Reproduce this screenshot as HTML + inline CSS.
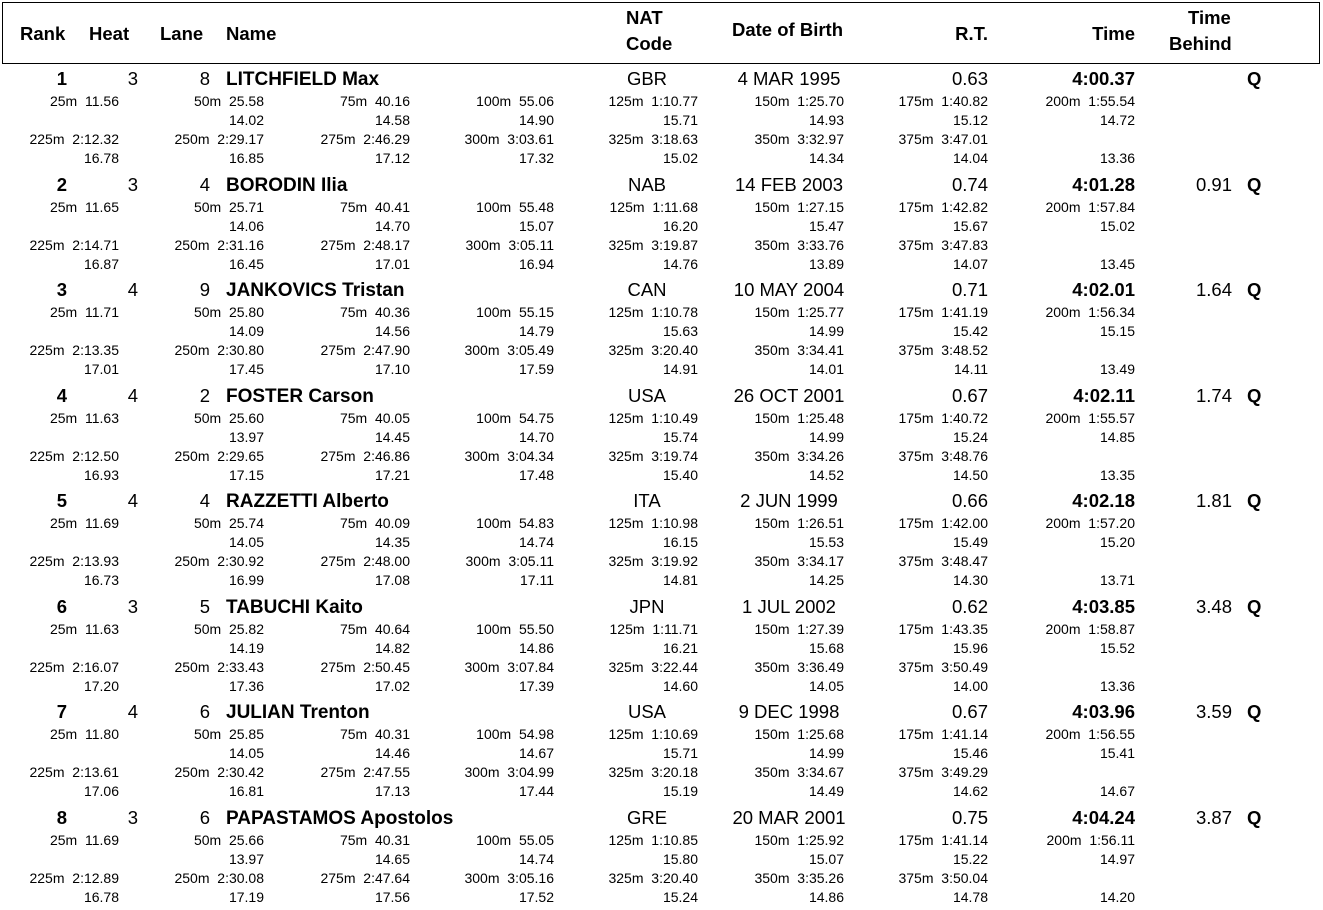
<!DOCTYPE html>
<html><head><meta charset="utf-8">
<style>
html,body{margin:0;padding:0;background:#fff;}
body{width:1323px;height:910px;position:relative;overflow:hidden;font-family:"Liberation Sans",Arial,sans-serif;color:#000;}
.hdr{position:absolute;left:2px;top:2px;width:1316px;height:60px;border:1px solid #000;}
.t{position:absolute;white-space:nowrap;line-height:20px;height:20px;}
.h{font-weight:bold;font-size:18.5px;}
.m{font-size:18.5px;}
.nm{font-size:19px;}
.b{font-weight:bold;}
.s{font-size:14px;line-height:16px;height:16px;}
.r{text-align:right;}
.c{text-align:center;}
</style></head><body>
<div class="hdr"></div>
<div id="root"></div>
<script>
var H=[["Rank",20,24],["Heat",89,24],["Lane",160,24],["Name",226,24],["NAT",626,8],["Code",626,34],["Date of Birth",732,20],["Time",1188,8],["Behind",1169,34]];
var out="";
H.forEach(function(h){out+='<div class="t h" style="left:'+h[1]+'px;top:'+h[2]+'px">'+h[0]+'</div>';});
out+='<div class="t h r" style="left:888px;width:100px;top:24px">R.T.</div>';
out+='<div class="t h r" style="left:1035px;width:100px;top:24px">Time</div>';
var D=[
["1","3","8","LITCHFIELD Max","GBR","4 MAR 1995","0.63","4:00.37","",
["11.56","25.58","40.16","55.06","1:10.77","1:25.70","1:40.82","1:55.54"],["","14.02","14.58","14.90","15.71","14.93","15.12","14.72"],
["2:12.32","2:29.17","2:46.29","3:03.61","3:18.63","3:32.97","3:47.01"],["16.78","16.85","17.12","17.32","15.02","14.34","14.04","13.36"]],
["2","3","4","BORODIN Ilia","NAB","14 FEB 2003","0.74","4:01.28","0.91",
["11.65","25.71","40.41","55.48","1:11.68","1:27.15","1:42.82","1:57.84"],["","14.06","14.70","15.07","16.20","15.47","15.67","15.02"],
["2:14.71","2:31.16","2:48.17","3:05.11","3:19.87","3:33.76","3:47.83"],["16.87","16.45","17.01","16.94","14.76","13.89","14.07","13.45"]],
["3","4","9","JANKOVICS Tristan","CAN","10 MAY 2004","0.71","4:02.01","1.64",
["11.71","25.80","40.36","55.15","1:10.78","1:25.77","1:41.19","1:56.34"],["","14.09","14.56","14.79","15.63","14.99","15.42","15.15"],
["2:13.35","2:30.80","2:47.90","3:05.49","3:20.40","3:34.41","3:48.52"],["17.01","17.45","17.10","17.59","14.91","14.01","14.11","13.49"]],
["4","4","2","FOSTER Carson","USA","26 OCT 2001","0.67","4:02.11","1.74",
["11.63","25.60","40.05","54.75","1:10.49","1:25.48","1:40.72","1:55.57"],["","13.97","14.45","14.70","15.74","14.99","15.24","14.85"],
["2:12.50","2:29.65","2:46.86","3:04.34","3:19.74","3:34.26","3:48.76"],["16.93","17.15","17.21","17.48","15.40","14.52","14.50","13.35"]],
["5","4","4","RAZZETTI Alberto","ITA","2 JUN 1999","0.66","4:02.18","1.81",
["11.69","25.74","40.09","54.83","1:10.98","1:26.51","1:42.00","1:57.20"],["","14.05","14.35","14.74","16.15","15.53","15.49","15.20"],
["2:13.93","2:30.92","2:48.00","3:05.11","3:19.92","3:34.17","3:48.47"],["16.73","16.99","17.08","17.11","14.81","14.25","14.30","13.71"]],
["6","3","5","TABUCHI Kaito","JPN","1 JUL 2002","0.62","4:03.85","3.48",
["11.63","25.82","40.64","55.50","1:11.71","1:27.39","1:43.35","1:58.87"],["","14.19","14.82","14.86","16.21","15.68","15.96","15.52"],
["2:16.07","2:33.43","2:50.45","3:07.84","3:22.44","3:36.49","3:50.49"],["17.20","17.36","17.02","17.39","14.60","14.05","14.00","13.36"]],
["7","4","6","JULIAN Trenton","USA","9 DEC 1998","0.67","4:03.96","3.59",
["11.80","25.85","40.31","54.98","1:10.69","1:25.68","1:41.14","1:56.55"],["","14.05","14.46","14.67","15.71","14.99","15.46","15.41"],
["2:13.61","2:30.42","2:47.55","3:04.99","3:20.18","3:34.67","3:49.29"],["17.06","16.81","17.13","17.44","15.19","14.49","14.62","14.67"]],
["8","3","6","PAPASTAMOS Apostolos","GRE","20 MAR 2001","0.75","4:04.24","3.87",
["11.69","25.66","40.31","55.05","1:10.85","1:25.92","1:41.14","1:56.11"],["","13.97","14.65","14.74","15.80","15.07","15.22","14.97"],
["2:12.89","2:30.08","2:47.64","3:05.16","3:20.40","3:35.26","3:50.04"],["16.78","17.19","17.56","17.52","15.24","14.86","14.78","14.20"]]
];
var Y=[79,185,290,396,501,607,712,818];
var R=[119,264,410,554,698,844,988,1135];
var L1=["25m","50m","75m","100m","125m","150m","175m","200m"];
var L2=["225m","250m","275m","300m","325m","350m","375m"];
function rt(cls,right,top,txt){return '<div class="t '+cls+' r" style="left:'+(right-200)+'px;width:200px;top:'+top+'px">'+txt+'</div>';}
function ct(cls,cx,top,txt){return '<div class="t '+cls+' c" style="left:'+(cx-100)+'px;width:200px;top:'+top+'px">'+txt+'</div>';}
D.forEach(function(d,i){
 var y=Y[i]-10;
 out+=rt("m b",67,y,d[0]);
 out+=rt("m",138,y,d[1]);
 out+=rt("m",210,y,d[2]);
 out+='<div class="t nm b" style="left:226px;top:'+(y+1)+'px">'+d[3]+'</div>';
 out+=ct("m",647,y,d[4]);
 out+=ct("m",789,y,d[5]);
 out+=rt("m",988,y,d[6]);
 out+=rt("m b",1135,y,d[7]);
 if(d[8])out+=rt("m",1232,y,d[8]);
 out+='<div class="t m b" style="left:1247px;top:'+y+'px">Q</div>';
 var offs=[22,41,60,79];
 for(var k=0;k<8;k++){
  out+=rt("s",R[k],Y[i]+offs[0]-8,L1[k]+"&nbsp;&nbsp;"+d[9][k]);
  if(d[10][k])out+=rt("s",R[k],Y[i]+offs[1]-8,d[10][k]);
  if(k<7)out+=rt("s",R[k],Y[i]+offs[2]-8,L2[k]+"&nbsp;&nbsp;"+d[11][k]);
  out+=rt("s",R[k],Y[i]+offs[3]-8,d[12][k]);
 }
});
document.getElementById("root").innerHTML=out;
</script>
</body></html>
